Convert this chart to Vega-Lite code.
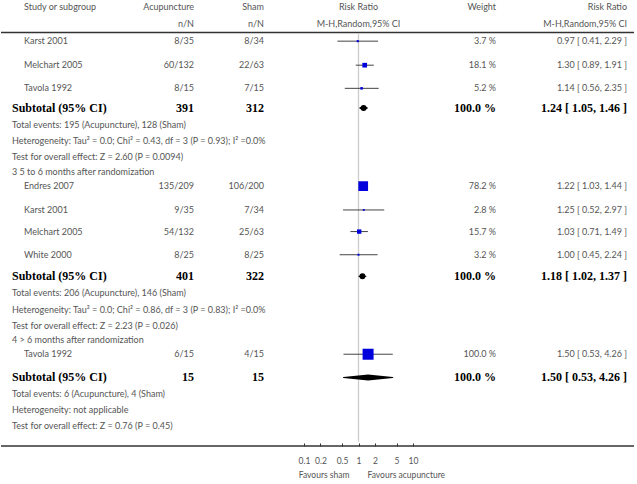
{
  "$schema": "https://vega.github.io/schema/vega-lite/v6.json",
  "padding": 0,
  "spacing": 0,
  "bounds": "flush",
  "background": "#ffffff",
  "config": {"view": {"stroke": null}, "concat": {"spacing": 0}},
  "datasets": {
    "rows": [
      {"row": 0.4, "kind": "header", "label": "Study or subgroup", "acu": "Acupuncture", "sham": "Sham", "mid": "Risk Ratio", "wt": "Weight", "rr": "Risk Ratio"},
      {"row": 1.4, "kind": "header", "label": "", "acu": "n/N", "sham": "n/N", "mid": "M-H,Random,95% CI", "wt": "", "rr": "M-H,Random,95% CI"},
      {"row": 2.4, "kind": "study", "label": "Karst 2001", "acu": "8/35", "sham": "8/34", "weight": 3.7, "wt": "3.7 %", "rr": "0.97 [ 0.41, 2.29 ]", "est": 0.97, "lo": 0.41, "hi": 2.29},
      {"row": 3.8, "kind": "study", "label": "Melchart 2005", "acu": "60/132", "sham": "22/63", "weight": 18.1, "wt": "18.1 %", "rr": "1.30 [ 0.89, 1.91 ]", "est": 1.30, "lo": 0.89, "hi": 1.91},
      {"row": 5.15, "kind": "study", "label": "Tavola 1992", "acu": "8/15", "sham": "7/15", "weight": 5.2, "wt": "5.2 %", "rr": "1.14 [ 0.56, 2.35 ]", "est": 1.14, "lo": 0.56, "hi": 2.35},
      {"row": 6.3, "kind": "subtotal", "label": "Subtotal (95% CI)", "acu": "391", "sham": "312", "wt": "100.0 %", "rr": "1.24 [ 1.05, 1.46 ]", "est": 1.24, "lo": 1.05, "hi": 1.46},
      {"row": 7.3, "kind": "note", "label": "Total events: 195 (Acupuncture), 128 (Sham)"},
      {"row": 8.2, "kind": "note", "label": "Heterogeneity: Tau² = 0.0; Chi² = 0.43, df = 3 (P = 0.93); I² =0.0%"},
      {"row": 9.15, "kind": "note", "label": "Test for overall effect: Z = 2.60 (P = 0.0094)"},
      {"row": 10.0, "kind": "group", "label": "3 5 to 6 months after randomization"},
      {"row": 10.85, "kind": "study", "label": "Endres 2007", "acu": "135/209", "sham": "106/200", "weight": 78.2, "wt": "78.2 %", "rr": "1.22 [ 1.03, 1.44 ]", "est": 1.22, "lo": 1.03, "hi": 1.44},
      {"row": 12.24, "kind": "study", "label": "Karst 2001", "acu": "9/35", "sham": "7/34", "weight": 2.8, "wt": "2.8 %", "rr": "1.25 [ 0.52, 2.97 ]", "est": 1.25, "lo": 0.52, "hi": 2.97},
      {"row": 13.5, "kind": "study", "label": "Melchart 2005", "acu": "54/132", "sham": "25/63", "weight": 15.7, "wt": "15.7 %", "rr": "1.03 [ 0.71, 1.49 ]", "est": 1.03, "lo": 0.71, "hi": 1.49},
      {"row": 14.85, "kind": "study", "label": "White 2000", "acu": "8/25", "sham": "8/25", "weight": 3.2, "wt": "3.2 %", "rr": "1.00 [ 0.45, 2.24 ]", "est": 1.00, "lo": 0.45, "hi": 2.24},
      {"row": 16.1, "kind": "subtotal", "label": "Subtotal (95% CI)", "acu": "401", "sham": "322", "wt": "100.0 %", "rr": "1.18 [ 1.02, 1.37 ]", "est": 1.18, "lo": 1.02, "hi": 1.37},
      {"row": 17.1, "kind": "note", "label": "Total events: 206 (Acupuncture), 146 (Sham)"},
      {"row": 18.05, "kind": "note", "label": "Heterogeneity: Tau² = 0.0; Chi² = 0.86, df = 3 (P = 0.83); I² =0.0%"},
      {"row": 19.0, "kind": "note", "label": "Test for overall effect: Z = 2.23 (P = 0.026)"},
      {"row": 19.8, "kind": "group", "label": "4 > 6 months after randomization"},
      {"row": 20.65, "kind": "study", "label": "Tavola 1992", "acu": "6/15", "sham": "4/15", "weight": 100.0, "wt": "100.0 %", "rr": "1.50 [ 0.53, 4.26 ]", "est": 1.50, "lo": 0.53, "hi": 4.26},
      {"row": 22.0, "kind": "subtotal", "label": "Subtotal (95% CI)", "acu": "15", "sham": "15", "wt": "100.0 %", "rr": "1.50 [ 0.53, 4.26 ]", "est": 1.50, "lo": 0.53, "hi": 4.26},
      {"row": 22.95, "kind": "note", "label": "Total events: 6 (Acupuncture), 4 (Sham)"},
      {"row": 23.9, "kind": "note", "label": "Heterogeneity: not applicable"},
      {"row": 24.85, "kind": "note", "label": "Test for overall effect: Z = 0.76 (P = 0.45)"},
      {"row": 27.69, "kind": "favours", "side": "left", "label": "Favours sham"},
      {"row": 27.69, "kind": "favours", "side": "right", "label": "Favours acupuncture"}
    ],
    "lines": [
      {"line": "top", "row": 1.9},
      {"line": "bottom", "row": 26}
    ],
    "refline": [
      {"value": 1, "from": 1.95, "to": 25.75}
    ]
  },
  "hconcat": [
    {
      "width": 120, "height": 446, "data": {"name": "rows"},
      "encoding": {"y": {"field": "row", "type": "quantitative", "scale": {"domain": [0, 26], "reverse": true, "nice": false, "zero": false}, "axis": null}},
      "layer": [
        {"data": {"name": "lines"}, "mark": {"type": "rule", "color": "#333333", "strokeWidth": 1.5}, "encoding": {"x": {"value": 0}, "x2": {"value": "width"}}},
        {"transform": [{"filter": "datum.kind === 'study' || datum.kind === 'header'"}], "mark": {"type": "text", "align": "left", "baseline": "middle", "dx": 23, "font": "Lato", "fontSize": 9, "color": "#555555"}, "encoding": {"x": {"value": 0}, "text": {"field": "label"}}},
        {"transform": [{"filter": "datum.kind === 'note' || datum.kind === 'group'"}], "mark": {"type": "text", "align": "left", "baseline": "middle", "dx": 11, "font": "Lato", "fontSize": 9, "color": "#555555"}, "encoding": {"x": {"value": 0}, "text": {"field": "label"}}},
        {"transform": [{"filter": "datum.kind === 'subtotal'"}], "mark": {"type": "text", "align": "left", "baseline": "middle", "dx": 11, "font": "Liberation Serif", "fontWeight": "bold", "fontSize": 12, "color": "#000000"}, "encoding": {"x": {"value": 0}, "text": {"field": "label"}}}
      ]
    },
    {
      "width": 73, "height": 446, "data": {"name": "rows"},
      "encoding": {"y": {"field": "row", "type": "quantitative", "scale": {"domain": [0, 26], "reverse": true, "nice": false, "zero": false}, "axis": null}},
      "layer": [
        {"data": {"name": "lines"}, "mark": {"type": "rule", "color": "#333333", "strokeWidth": 1.5}, "encoding": {"x": {"value": 0}, "x2": {"value": "width"}}},
        {"transform": [{"filter": "datum.kind === 'study' || datum.kind === 'header'"}], "mark": {"type": "text", "align": "right", "baseline": "middle", "font": "Lato", "fontSize": 9, "color": "#555555"}, "encoding": {"x": {"value": "width"}, "text": {"field": "acu"}}},
        {"transform": [{"filter": "datum.kind === 'subtotal'"}], "mark": {"type": "text", "align": "right", "baseline": "middle", "font": "Liberation Serif", "fontWeight": "bold", "fontSize": 12, "color": "#000000"}, "encoding": {"x": {"value": "width"}, "text": {"field": "acu"}}}
      ]
    },
    {
      "width": 72, "height": 446, "data": {"name": "rows"},
      "encoding": {"y": {"field": "row", "type": "quantitative", "scale": {"domain": [0, 26], "reverse": true, "nice": false, "zero": false}, "axis": null}},
      "layer": [
        {"data": {"name": "lines"}, "mark": {"type": "rule", "color": "#333333", "strokeWidth": 1.5}, "encoding": {"x": {"value": 0}, "x2": {"value": "width"}}},
        {"transform": [{"filter": "datum.kind === 'study' || datum.kind === 'header'"}], "mark": {"type": "text", "align": "right", "baseline": "middle", "dx": -2, "font": "Lato", "fontSize": 9, "color": "#555555"}, "encoding": {"x": {"value": "width"}, "text": {"field": "sham"}}},
        {"transform": [{"filter": "datum.kind === 'subtotal'"}], "mark": {"type": "text", "align": "right", "baseline": "middle", "dx": -2, "font": "Liberation Serif", "fontWeight": "bold", "fontSize": 12, "color": "#000000"}, "encoding": {"x": {"value": "width"}, "text": {"field": "sham"}}}
      ]
    },
    {
      "width": 185, "height": 446, "data": {"name": "rows"},
      "encoding": {"y": {"field": "row", "type": "quantitative", "scale": {"domain": [0, 26], "reverse": true, "nice": false, "zero": false}, "axis": null}},
      "layer": [
        {"data": {"name": "lines"}, "mark": {"type": "rule", "color": "#333333", "strokeWidth": 1.5}, "encoding": {"x": {"value": 0}, "x2": {"value": "width"}}},
        {"data": {"name": "refline"}, "mark": {"type": "rule", "color": "#cccccc", "strokeWidth": 1.3}, "encoding": {
          "x": {"field": "value", "type": "quantitative", "scale": {"type": "log", "domain": [0.02, 50], "nice": false}, "axis": {"values": [0.1, 0.2, 0.5, 1, 2, 5, 10], "format": "~g", "title": null, "domain": false, "grid": false, "tickSize": -3, "tickColor": "#333333", "labelPadding": 13, "labelFont": "Lato", "labelFontSize": 8.5, "labelColor": "#555555"}},
          "y": {"field": "from", "type": "quantitative"}, "y2": {"field": "to"}}},
        {"transform": [{"filter": "datum.kind === 'study'"}], "mark": {"type": "rule", "color": "#444444", "strokeWidth": 1}, "encoding": {"x": {"field": "lo", "type": "quantitative"}, "x2": {"field": "hi"}}},
        {"transform": [{"filter": "datum.kind === 'study'"}], "mark": {"type": "point", "shape": "square", "filled": true, "opacity": 1, "color": "#0000dd"}, "encoding": {"x": {"field": "est", "type": "quantitative"}, "size": {"field": "weight", "type": "quantitative", "scale": {"domain": [0, 100], "range": [0, 121]}, "legend": null}}},
        {"transform": [{"filter": "datum.kind === 'subtotal'"}, {"fold": ["lo", "est", "hi"]}], "mark": {"type": "trail", "color": "#000000"}, "encoding": {"x": {"field": "value", "type": "quantitative"}, "detail": {"field": "row"}, "size": {"condition": {"test": "datum.key === 'est'", "value": 6}, "value": 0}}},
        {"transform": [{"filter": "datum.kind === 'header'"}], "mark": {"type": "text", "align": "center", "baseline": "middle", "font": "Lato", "fontSize": 9, "color": "#555555"}, "encoding": {"x": {"datum": 1}, "text": {"field": "mid"}}},
        {"transform": [{"filter": "datum.kind === 'favours' && datum.side === 'left'"}], "mark": {"type": "text", "align": "right", "baseline": "middle", "dx": -9, "font": "Lato", "fontSize": 8.5, "color": "#555555"}, "encoding": {"x": {"datum": 1}, "text": {"field": "label"}}},
        {"transform": [{"filter": "datum.kind === 'favours' && datum.side === 'right'"}], "mark": {"type": "text", "align": "left", "baseline": "middle", "dx": 9, "font": "Lato", "fontSize": 8.5, "color": "#555555"}, "encoding": {"x": {"datum": 1}, "text": {"field": "label"}}}
      ]
    },
    {
      "width": 45, "height": 446, "data": {"name": "rows"},
      "encoding": {"y": {"field": "row", "type": "quantitative", "scale": {"domain": [0, 26], "reverse": true, "nice": false, "zero": false}, "axis": null}},
      "layer": [
        {"data": {"name": "lines"}, "mark": {"type": "rule", "color": "#333333", "strokeWidth": 1.5}, "encoding": {"x": {"value": 0}, "x2": {"value": "width"}}},
        {"transform": [{"filter": "datum.kind === 'study' || datum.kind === 'header'"}], "mark": {"type": "text", "align": "right", "baseline": "middle", "font": "Lato", "fontSize": 9, "color": "#555555"}, "encoding": {"x": {"value": "width"}, "text": {"field": "wt"}}},
        {"transform": [{"filter": "datum.kind === 'subtotal'"}], "mark": {"type": "text", "align": "right", "baseline": "middle", "font": "Liberation Serif", "fontWeight": "bold", "fontSize": 12, "color": "#000000"}, "encoding": {"x": {"value": "width"}, "text": {"field": "wt"}}}
      ]
    },
    {
      "width": 138, "height": 446, "data": {"name": "rows"},
      "encoding": {"y": {"field": "row", "type": "quantitative", "scale": {"domain": [0, 26], "reverse": true, "nice": false, "zero": false}, "axis": null}},
      "layer": [
        {"data": {"name": "lines"}, "mark": {"type": "rule", "color": "#333333", "strokeWidth": 1.5}, "encoding": {"x": {"value": 0}, "x2": {"value": "width"}}},
        {"transform": [{"filter": "datum.kind === 'study' || datum.kind === 'header'"}], "mark": {"type": "text", "align": "right", "baseline": "middle", "dx": -7, "font": "Lato", "fontSize": 9, "color": "#555555"}, "encoding": {"x": {"value": "width"}, "text": {"field": "rr"}}},
        {"transform": [{"filter": "datum.kind === 'subtotal'"}], "mark": {"type": "text", "align": "right", "baseline": "middle", "dx": -7, "font": "Liberation Serif", "fontWeight": "bold", "fontSize": 12, "color": "#000000"}, "encoding": {"x": {"value": "width"}, "text": {"field": "rr"}}}
      ]
    }
  ]
}
